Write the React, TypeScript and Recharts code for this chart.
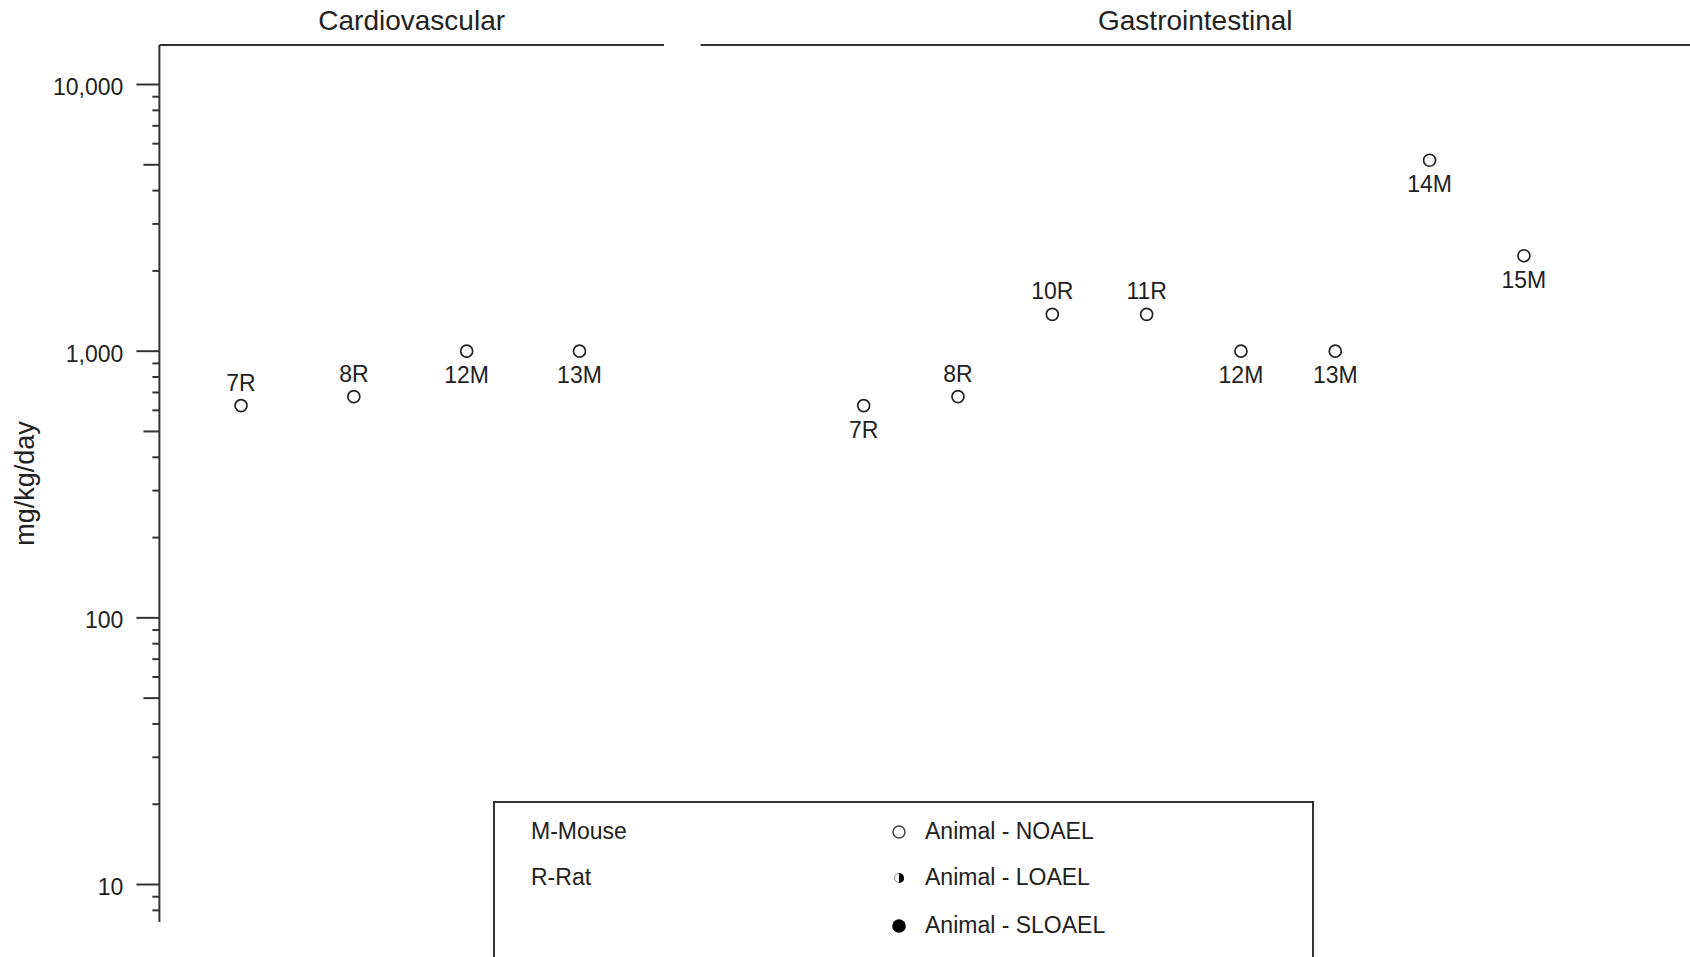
import { ScatterChart, Scatter, XAxis, YAxis } from 'recharts'

// study id, dose (mg/kg/day) and which side of the marker the id is printed on
const cardioStudies = ['7R', '8R', '12M', '13M']
const cardioDoses = [625, 675, 1000, 1000]
const cardioLabelSide = ['top', 'top', 'bottom', 'bottom']

const giStudies = ['7R', '8R', '10R', '11R', '12M', '13M', '14M', '15M']
const giDoses = [625, 675, 1375, 1375, 1000, 1000, 5200, 2280]
const giLabelSide = ['bottom', 'top', 'top', 'top', 'bottom', 'bottom', 'bottom', 'bottom']

const speciesKey = ['M-Mouse', 'R-Rat']
const effectKey = ['Animal - NOAEL', 'Animal - LOAEL', 'Animal - SLOAEL']

const majorTicks = [10, 100, 1000, 10000]
const minorSteps = [1, 2, 3, 4, 5, 6, 7, 8, 9]
const yTicks = [8, 9, ...majorTicks.slice(0, 3).flatMap((d) => minorSteps.map((m) => m * d)), 10000]

const Y_DOMAIN: [number, number] = [7.235, 14066]
const FONT = '"Liberation Sans", Arial, Helvetica, sans-serif'
const INK = '#222'
const AXIS = '#333'

type Point = { slot: number; dose: number; study: string; side: string }

const toPoints = (studies: string[], doses: number[], sides: string[]): Point[] =>
  studies.map((study, i) => ({ slot: i + 1, dose: doses[i], study, side: sides[i] }))

const cardioData = toPoints(cardioStudies, cardioDoses, cardioLabelSide)
const giData = toPoints(giStudies, giDoses, giLabelSide)

function LogTick({ x, y, payload }: { x?: number; y?: number; payload?: { value: number } }) {
  if (x === undefined || y === undefined || !payload) return null
  const v = payload.value
  const major = majorTicks.includes(v)
  const lead = v / Math.pow(10, Math.floor(Math.log10(v) + 1e-9))
  const len = major ? 23 : Math.abs(lead - 5) < 1e-6 ? 16 : 7
  return (
    <g>
      <line x1={x} x2={x - len} y1={y} y2={y} stroke={AXIS} strokeWidth={2} />
      {major && (
        <text x={x - 36} y={y} dy="0.45em" textAnchor="end" fontSize={23} fontFamily={FONT} fill={INK}>
          {v.toLocaleString('en-US')}
        </text>
      )}
    </g>
  )
}

function StudyDot(props: { cx?: number; cy?: number; payload?: Point }) {
  const { cx, cy, payload } = props
  if (cx === undefined || cy === undefined || !payload) return null
  const ty = payload.side === 'top' ? cy - 23 + 8 : cy + 24 + 8
  return (
    <g>
      <circle cx={cx} cy={cy} r={6} fill="#fff" stroke={INK} strokeWidth={1.7} />
      <text x={cx} y={ty} textAnchor="middle" fontSize={23} fontFamily={FONT} fill={INK}>
        {payload.study}
      </text>
    </g>
  )
}

function YTitle({ viewBox }: { viewBox?: { x: number; y: number; width: number; height: number } }) {
  if (!viewBox) return null
  const cx = viewBox.x + 25
  const cy = viewBox.y + viewBox.height / 2
  return (
    <text x={cx} y={cy} transform={`rotate(-90 ${cx} ${cy})`} textAnchor="middle" dominantBaseline="central"
      fontSize={27} fontFamily={FONT} fill={INK}>
      mg/kg/day
    </text>
  )
}

function Panel({ title, data, domain, showY, width, marginLeft, marginRight }: {
  title: string; data: Point[]; domain: [number, number]; showY: boolean
  width: number; marginLeft: number; marginRight: number
}) {
  return (
    <ScatterChart width={width} height={957} margin={{ top: 0, right: marginRight, bottom: 35, left: marginLeft }}>
      <XAxis
        type="number"
        dataKey="slot"
        orientation="top"
        height={45}
        domain={domain}
        allowDataOverflow
        tick={false}
        tickLine={false}
        axisLine={{ stroke: AXIS, strokeWidth: 2 }}
        label={{ value: title, position: 'center', dy: -2, fontSize: 28, fontFamily: FONT, fill: INK }}
      />
      <YAxis
        type="number"
        dataKey="dose"
        scale="log"
        domain={Y_DOMAIN}
        allowDataOverflow
        hide={!showY}
        width={159.4}
        ticks={yTicks}
        interval={0}
        tickSize={0}
        tickMargin={0}
        tickLine={false}
        axisLine={{ stroke: AXIS, strokeWidth: 2 }}
        tick={(p: unknown) => <LogTick {...(p as { x?: number; y?: number; payload?: { value: number } })} />}
        label={{ content: (p: unknown) => <YTitle {...(p as { viewBox?: { x: number; y: number; width: number; height: number } })} /> }}
      />
      <Scatter
        data={data}
        isAnimationActive={false}
        shape={(p: unknown) => <StudyDot {...(p as { cx?: number; cy?: number; payload?: Point })} />}
      />
    </ScatterChart>
  )
}

function KeySymbol({ kind }: { kind: number }) {
  return (
    <svg width={20} height={20} viewBox="-10 -10 20 20" style={{ display: 'block' }}>
      {kind === 0 && <circle r={6} fill="#fff" stroke="#444" strokeWidth={1.5} />}
      {kind === 1 && (
        <g>
          <circle r={4.5} fill="#fff" stroke="#999" strokeWidth={1.2} />
          <path d="M0,-5.1 A5.1,5.1 0 0 1 0,5.1 Z" fill="#000" />
        </g>
      )}
      {kind === 2 && <circle r={6.8} fill="#000" />}
    </svg>
  )
}

function KeyBox() {
  const rowY = [28, 74, 122]
  return (
    <div style={{
      position: 'absolute', left: 493, top: 801, width: 817, height: 220,
      border: `2px solid ${AXIS}`, background: '#fff', fontFamily: FONT, fontSize: 23, color: INK,
    }}>
      {speciesKey.map((s, i) => (
        <div key={s} style={{ position: 'absolute', left: 36, top: rowY[i] - 14, lineHeight: '28px' }}>{s}</div>
      ))}
      {effectKey.map((e, i) => (
        <div key={e}>
          <div style={{ position: 'absolute', left: 394, top: rowY[i] - 10 + 1 }}>
            <KeySymbol kind={i} />
          </div>
          <div style={{ position: 'absolute', left: 430, top: rowY[i] - 14, lineHeight: '28px' }}>{e}</div>
        </div>
      ))}
    </div>
  )
}

export default function App() {
  return (
    <div style={{ position: 'absolute', left: 0, top: 0, width: 1690, height: 957, overflow: 'hidden', background: '#fff' }}>
      <div style={{ position: 'absolute', left: 0, top: 0 }}>
        <Panel title="Cardiovascular" data={cardioData} domain={[0.2766, 4.749]} showY width={700}
          marginLeft={0} marginRight={36} />
      </div>
      <div style={{ position: 'absolute', left: 700, top: 0 }}>
        <Panel title="Gastrointestinal" data={giData} domain={[-0.729, 9.761]} showY={false} width={990}
          marginLeft={0.6} marginRight={0} />
      </div>
      <KeyBox />
    </div>
  )
}
